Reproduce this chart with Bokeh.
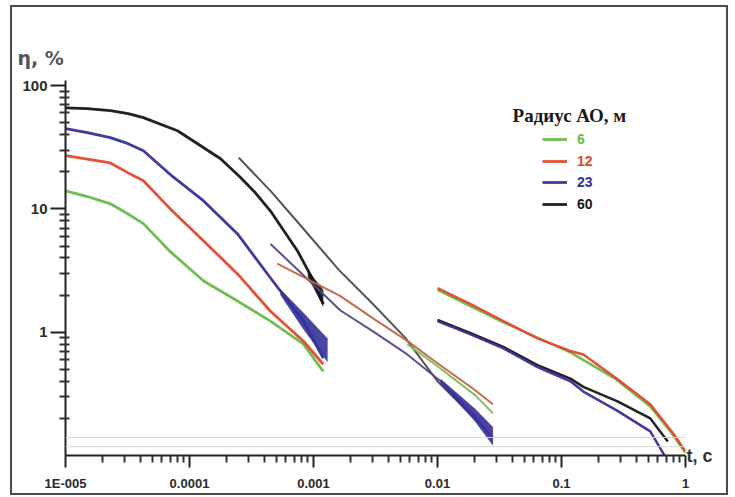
from bokeh.plotting import figure
from bokeh.models import (ColumnDataSource, FixedTicker, Legend, LegendItem, Label,
                          Span, Title, LogAxis)
from bokeh.embed import file_html
from bokeh.resources import INLINE

# ---------------- data (t, s ; eta, %) ----------------
# radius 6 m (green)
g1_t = [1e-5, 1.5e-5, 2.3e-5, 3.2e-5, 4.25e-5, 7e-5, 1.3e-4, 2.44e-4, 4.5e-4, 8.3e-4, 1.2e-3]
g1_e = [14, 12.6, 11.0, 9.1, 7.6, 4.5, 2.6, 1.79, 1.23, 0.80, 0.48]
g2_t = [5.7e-3, 1e-2, 2e-2, 2.8e-2]
g2_e = [0.80, 0.53, 0.31, 0.22]
g3_t = [0.01, 0.034, 0.12, 0.28, 0.52, 0.76, 1.0]
g3_e = [2.2, 1.2, 0.68, 0.41, 0.25, 0.155, 0.105]
# radius 12 m (red)
r1_t = [1e-5, 1.5e-5, 2.3e-5, 3.2e-5, 4.25e-5, 7e-5, 1.3e-4, 2.44e-4, 4.5e-4, 8.3e-4, 1.2e-3]
r1_e = [27, 25.3, 23.6, 19.6, 16.9, 10.0, 5.5, 2.97, 1.48, 0.845, 0.55]
r2_t = [5.1e-4, 1.65e-3, 3e-3, 5.7e-3, 1e-2, 2e-2, 2.8e-2]
r2_e = [3.6, 1.96, 1.3, 0.85, 0.56, 0.34, 0.26]
r3_t = [0.01, 0.0185, 0.034, 0.064, 0.12, 0.15, 0.28, 0.52, 0.8, 1.0]
r3_e = [2.28, 1.69, 1.23, 0.89, 0.70, 0.66, 0.42, 0.26, 0.15, 0.108]
# radius 23 m (blue)
b1_t = [1e-5, 1.5e-5, 2.3e-5, 3.2e-5, 4.25e-5, 7e-5, 1.3e-4, 2.44e-4, 4.5e-4, 8.3e-4, 1.2e-3]
b1_e = [44.7, 41.5, 37.8, 33.8, 29.6, 19.0, 11.6, 6.27, 2.75, 1.23, 0.615]
b2_t = [4.5e-4, 1.65e-3, 3e-3, 5.7e-3, 1.06e-2, 1.95e-2, 2.8e-2]
b2_e = [5.2, 1.5, 1.02, 0.66, 0.40, 0.215, 0.137]
b3_t = [0.01, 0.0185, 0.034, 0.064, 0.118, 0.15, 0.283, 0.52, 0.73]
b3_e = [1.23, 0.96, 0.74, 0.52, 0.40, 0.33, 0.23, 0.157, 0.088]
# radius 60 m (black)
k1_t = [1e-5, 1.5e-5, 2.3e-5, 3.2e-5, 4.25e-5, 8e-5, 1.23e-4, 1.78e-4, 2.58e-4, 3.4e-4,
        4.5e-4, 7.43e-4, 1e-3, 1.2e-3]
k1_e = [66, 65, 62.7, 59.2, 55, 43, 32.5, 25.5, 18, 13.5, 9.6, 4.56, 2.62, 1.69]
k2_t = [2.5e-4, 4.5e-4, 8e-4, 1.6e-3, 3e-3, 5.5e-3, 1e-2, 2e-2, 2.8e-2]
k2_e = [26, 14, 7.2, 3.2, 1.7, 0.9, 0.4, 0.2, 0.14]
k3_t = [0.01, 0.0185, 0.034, 0.064, 0.118, 0.15, 0.283, 0.52, 0.72]
k3_e = [1.26, 0.98, 0.76, 0.54, 0.42, 0.36, 0.275, 0.2, 0.13]

# noisy thick ends of the records (band edges)
bb1_t = [5.4e-4, 8.3e-4, 1.3e-3]
bb1_hi = [2.24, 1.44, 0.89]
bb1_lo = [2.0, 1.05, 0.57]
bb2_t = [1.06e-2, 2.0e-2, 2.8e-2]
bb2_hi = [0.42, 0.24, 0.17]
bb2_lo = [0.38, 0.19, 0.12]
kb1_t = [9e-4, 1.2e-3]
kb1_hi = [3.2, 2.2]
kb1_lo = [2.8, 1.6]

radii = ["6", "12", "23", "60"]
colors = ["#66bb48", "#e4472b", "#34309a", "#151515"]
seg2_colors = ["#7dbb5a", "#c2643f", "#4d4a8a", "#4a4a4a"]

x_ticks = [1e-5, 1e-4, 1e-3, 1e-2, 1e-1, 1]
x_tick_labels = ["1E-005", "0.0001", "0.001", "0.01", "0.1", "1"]
y_ticks = [1, 10, 100]
y_tick_labels = ["1", "10", "100"]

# ---------------- figure ----------------
p = figure(width=718, height=490, x_axis_type="log", y_axis_type="log",
           x_range=(1e-5, 1), y_range=(0.1, 110),
           output_backend="svg", toolbar_location=None,
           min_border_left=53, min_border_right=45, min_border_top=73, min_border_bottom=42)
p.styles = {"border": "2px solid #4a4a4a", "margin-left": "10px", "margin-top": "5px"}
p.outline_line_color = None
p.xgrid.visible = False
p.ygrid.visible = False
p.background_fill_color = "white"
p.border_fill_color = "white"

for loc in [0.14, 0.118]:
    p.add_layout(Span(location=loc, dimension="width", line_color="#d9d9d9", line_width=1))

series = {
    "6": ([g1_t, g2_t, g3_t], [g1_e, g2_e, g3_e]),
    "12": ([r1_t, r2_t, r3_t], [r1_e, r2_e, r3_e]),
    "23": ([b1_t, b2_t, b3_t], [b1_e, b2_e, b3_e]),
    "60": ([k1_t, k2_t, k3_t], [k1_e, k2_e, k3_e]),
}
renderers = {}
for name in ["60", "23", "6", "12"]:
    xs, ys = series[name]
    i = radii.index(name)
    src = ColumnDataSource(dict(xs=xs, ys=ys, w=[2.8, 2.0, 2.5],
                                c=[colors[i], seg2_colors[i], colors[i]]))
    renderers[name] = p.multi_line("xs", "ys", source=src, line_color="c",
                                   line_width="w", line_alpha=0.95, line_join="round")
    if name == "60":
        p.varea(x=kb1_t, y1=kb1_lo, y2=kb1_hi, fill_color=colors[i], fill_alpha=0.9)
    if name == "23":
        p.varea(x=bb1_t, y1=bb1_lo, y2=bb1_hi, fill_color=colors[i], fill_alpha=0.9)
        p.varea(x=bb2_t, y1=bb2_lo, y2=bb2_hi, fill_color=colors[i], fill_alpha=0.9)

# axes
for ax in (p.xaxis[0], p.yaxis[0]):
    ax.axis_line_width = 2
    ax.axis_line_color = "#222222"
    ax.major_tick_line_color = "#222222"
    ax.minor_tick_line_color = "#333333"
    ax.major_tick_line_width = 2
    ax.minor_tick_line_width = 2
    ax.major_label_text_font = "Liberation Sans"
    ax.major_label_text_font_style = "bold"
    ax.major_label_text_color = "#2a2a2a"

xminor = [k * 10 ** e for e in range(-5, 0) for k in range(2, 10)]
p.xaxis.ticker = FixedTicker(ticks=x_ticks, minor_ticks=xminor)
p.xaxis.major_label_overrides = {t: l for t, l in zip(x_ticks, x_tick_labels)}
p.xaxis.major_tick_out = 12
p.xaxis.major_tick_in = 0
p.xaxis.minor_tick_out = 7
p.xaxis.minor_tick_in = 0
p.xaxis.major_label_standoff = 8
p.xaxis.major_label_text_font_size = "13px"

yminor = [k * 10 ** e for e in range(-1, 2) for k in range(2, 10)]
p.yaxis.ticker = FixedTicker(ticks=y_ticks, minor_ticks=yminor)
p.yaxis.major_label_overrides = {t: l for t, l in zip(y_ticks, y_tick_labels)}
p.yaxis.major_tick_out = 15
p.yaxis.major_tick_in = 0
p.yaxis.minor_tick_out = 6
p.yaxis.minor_tick_in = 4
p.yaxis.major_label_standoff = 3
p.yaxis.major_label_text_font_size = "15px"

# axis titles
t_axis = LogAxis(ticker=FixedTicker(ticks=[0.1]), axis_line_color=None,
                 major_tick_line_color=None, minor_tick_line_color=None,
                 major_tick_out=0, major_tick_in=0, minor_tick_out=0, minor_tick_in=0,
                 major_label_standoff=1, major_label_text_font="Liberation Sans",
                 major_label_text_font_style="bold", major_label_text_font_size="18px",
                 major_label_text_color="#333333", major_label_overrides={0.1: "t, c"})
p.add_layout(t_axis, "right")
p.add_layout(Title(text="η, %", align="left", offset=-48, standoff=24,
                   text_font="DejaVu Sans", text_font_style="bold",
                   text_font_size="19px", text_color="#555555"), "above")

# legend
p.add_layout(Label(x=0.0403, y=57, text="Радиус АО, м", text_baseline="middle",
                   text_align="left", text_font="Liberation Serif", text_font_style="bold",
                   text_font_size="19px", text_color="#1a1a1a"))
vys = [308, 286, 265, 243]
for name, vy in zip(radii, vys):
    col = colors[radii.index(name)]
    leg = Legend(items=[LegendItem(label=name, renderers=[renderers[name]], index=0)],
                 location=(477, vy), glyph_width=25, glyph_height=14, label_height=14,
                 label_standoff=10, padding=0, margin=0, spacing=0,
                 border_line_color=None, background_fill_alpha=0,
                 label_text_font="Liberation Sans", label_text_font_style="bold",
                 label_text_font_size="14px", label_text_color=col)
    p.add_layout(leg)

open("out.html", "w").write(file_html(p, INLINE))
